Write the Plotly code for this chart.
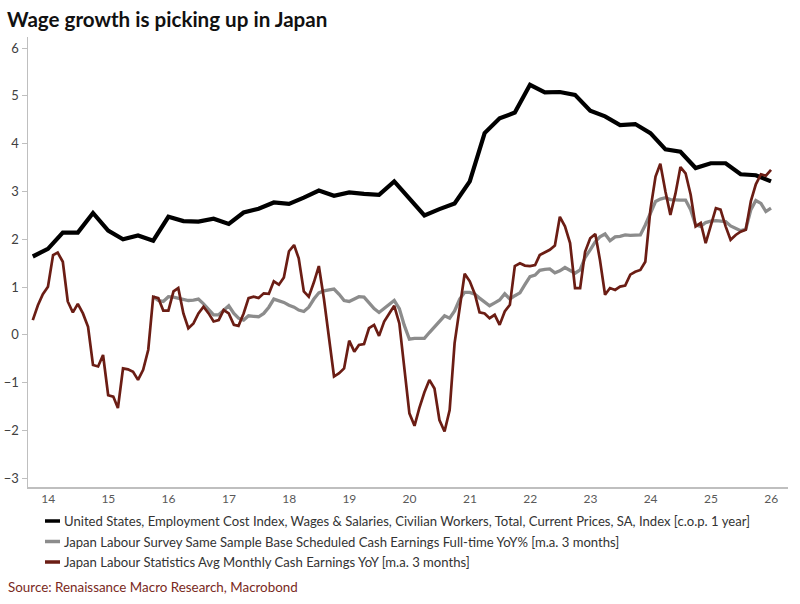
import pandas as pd
import plotly.graph_objects as go

# ---------------- data ----------------
title_text = "Wage growth is picking up in Japan"
source_text = "Source: Renaissance Macro Research, Macrobond"

series_names = [
    "United States, Employment Cost Index, Wages & Salaries, Civilian Workers, Total, Current Prices, SA, Index [c.o.p. 1 year]",
    "Japan Labour Survey Same Sample Base Scheduled Cash Earnings Full-time YoY% [m.a. 3 months]",
    "Japan Labour Statistics Avg Monthly Cash Earnings YoY [m.a. 3 months]",
]
series_colors = ["#000000", "#8c8c8c", "#6b1d14"]
series_widths = [4.2, 3.3, 2.7]

# quarterly dates (quarter end), Q3 2013 .. Q4 2025
us_dates = pd.date_range("2013-09-30", periods=50, freq="QE")
us_eci = [
    1.64, 1.80, 2.14, 2.14, 2.55, 2.18, 2.00, 2.08, 1.97, 2.47,
    2.38, 2.37, 2.43, 2.32, 2.56, 2.64, 2.77, 2.74, 2.87, 3.02,
    2.91, 2.98, 2.95, 2.93, 3.21, 2.86, 2.50, 2.63, 2.75, 3.21,
    4.22, 4.53, 4.65, 5.23, 5.07, 5.08, 5.02, 4.69, 4.57, 4.39,
    4.41, 4.22, 3.88, 3.83, 3.49, 3.59, 3.59, 3.36, 3.34, 3.21,
]

# monthly dates (month end), Sep 2013 .. Dec 2025
jp_dates = pd.date_range("2013-09-30", periods=148, freq="ME")
jp_same_sample = [None] * 24 + [
    0.80, 0.72, 0.70, 0.80, 0.79, 0.77, 0.74, 0.72, 0.73, 0.75, 0.65, 0.53,
    0.42, 0.42, 0.52, 0.61, 0.45, 0.35, 0.31, 0.40, 0.39, 0.38, 0.45, 0.58,
    0.75, 0.72, 0.68, 0.62, 0.58, 0.52, 0.49, 0.58, 0.75, 0.88, 0.92, 0.94,
    0.96, 0.85, 0.72, 0.70, 0.76, 0.80, 0.79, 0.68, 0.55, 0.47, 0.55, 0.65,
    0.72, 0.55, 0.20, -0.09, -0.07, -0.07, -0.07, 0.05, 0.17, 0.30, 0.40, 0.35,
    0.50, 0.75, 0.89, 0.89, 0.85, 0.77, 0.68, 0.61, 0.67, 0.73, 0.86, 0.75,
    0.82, 0.88, 1.05, 1.22, 1.25, 1.35, 1.37, 1.38, 1.30, 1.34, 1.41, 1.35,
    1.29, 1.36, 1.62, 1.78, 1.95, 2.05, 2.11, 1.97, 2.05, 2.06, 2.09, 2.08,
    2.09, 2.09, 2.30, 2.55, 2.79, 2.84, 2.87, 2.83, 2.82, 2.82, 2.82, 2.62,
    2.30, 2.27, 2.35, 2.38, 2.39, 2.38, 2.37, 2.28, 2.22, 2.18, 2.21, 2.62,
    2.81, 2.75, 2.58, 2.65,
]
jp_cash_earnings = [
    0.31, 0.62, 0.85, 1.01, 1.67, 1.72, 1.53, 0.70, 0.47, 0.65, 0.45, 0.17,
    -0.63, -0.66, -0.42, -1.26, -1.29, -1.53, -0.70, -0.72, -0.77, -0.94, -0.73, -0.31,
    0.80, 0.77, 0.51, 0.51, 0.91, 0.98, 0.45, 0.14, 0.24, 0.45, 0.59, 0.45,
    0.28, 0.31, 0.52, 0.45, 0.21, 0.19, 0.45, 0.77, 0.80, 0.77, 0.87, 0.86,
    1.12, 1.05, 1.20, 1.75, 1.88, 1.60, 0.91, 0.80, 1.10, 1.44, 0.75, -0.10,
    -0.87, -0.80, -0.70, -0.12, -0.35, -0.21, -0.19, 0.14, 0.21, -0.02, 0.28, 0.45,
    0.61, 0.24, -0.66, -1.64, -1.90, -1.53, -1.20, -0.94, -1.12, -1.78, -2.02, -1.57,
    -0.17, 0.60, 1.28, 1.12, 0.85, 0.47, 0.45, 0.35, 0.42, 0.21, 0.49, 0.63,
    1.44, 1.50, 1.45, 1.44, 1.46, 1.67, 1.72, 1.78, 1.87, 2.47, 2.27, 1.92,
    0.98, 0.98, 1.74, 2.02, 2.11, 1.57, 0.84, 0.98, 0.94, 1.01, 1.03, 1.26,
    1.32, 1.36, 1.53, 2.62, 3.31, 3.58, 3.00, 2.51, 2.96, 3.51, 3.38, 2.93,
    2.27, 2.34, 1.92, 2.27, 2.65, 2.62, 2.27, 1.99, 2.09, 2.16, 2.20, 2.80,
    3.15, 3.36, 3.33, 3.45,
]

y_tick_values = [-3, -2, -1, 0, 1, 2, 3, 4, 5, 6]

# ---------------- figure ----------------
FONT = "Lato"
W, H = 800, 604
ML, MR, MT, MB = 28, 12, 37, 117
plot_w = W - ML - MR
plot_h = H - MT - MB


def px_to_paper_x(px):
    return (px - ML) / plot_w


def px_to_paper_y(py):
    return (H - MB - py) / plot_h


fig = go.Figure()
xs = [us_dates, jp_dates, jp_dates]
ys = [us_eci, jp_same_sample, jp_cash_earnings]
for name, x, y, c, w in zip(series_names, xs, ys, series_colors, series_widths):
    fig.add_trace(go.Scatter(
        x=x, y=y, name=name, mode="lines",
        line=dict(color=c, width=w), showlegend=False,
        connectgaps=False, hoverinfo="skip",
    ))

# custom legend (short swatch + text)
legend_rows_px = [521, 541.5, 562]
annotations = []
shapes = []
for name, c, ypx in zip(series_names, series_colors, legend_rows_px):
    shapes.append(dict(
        type="line", xref="paper", yref="paper",
        x0=px_to_paper_x(45), x1=px_to_paper_x(60),
        y0=px_to_paper_y(ypx), y1=px_to_paper_y(ypx),
        line=dict(color=c, width=3.5),
    ))
    annotations.append(dict(
        text=name, xref="paper", yref="paper",
        x=px_to_paper_x(62), y=px_to_paper_y(ypx),
        xanchor="left", yanchor="middle", showarrow=False,
        font=dict(family=FONT, size=13.1, color="#333333"),
    ))

annotations.append(dict(
    text=source_text, xref="paper", yref="paper",
    x=px_to_paper_x(6), y=px_to_paper_y(586.5),
    xanchor="left", yanchor="middle", showarrow=False,
    font=dict(family=FONT, size=13.4, color="#7a2a22"),
))

fig.update_layout(
    width=W, height=H,
    margin=dict(l=ML, r=MR, t=MT, b=MB, pad=0, autoexpand=False),
    paper_bgcolor="white", plot_bgcolor="white",
    title=dict(
        text=f"<b>{title_text}</b>", x=7 / W, xref="container", xanchor="left",
        y=1 - 20 / H, yref="container", yanchor="middle",
        font=dict(family=FONT, size=20.6, color="#111111"),
        automargin=False,
    ),
    annotations=annotations,
    shapes=shapes,
    showlegend=False,
    hovermode=False,
)

fig.update_xaxes(
    type="date",
    range=["2013-09-01", "2026-04-13"],
    tick0="2014-01-01", dtick="M12", tickformat="%y",
    showgrid=False, zeroline=False, automargin=False,
    showline=True, linecolor="#bfbfbf", linewidth=1.5,
    ticks="", tickfont=dict(family=FONT, size=12, color="#595959"),
)
fig.update_yaxes(
    range=[-3.18, 6.23],
    tickvals=y_tick_values,
    showgrid=False, zeroline=False, automargin=False,
    showline=True, linecolor="#bfbfbf", linewidth=1.5,
    ticks="outside", ticklen=5, tickcolor="#bfbfbf", tickwidth=1,
    tickfont=dict(family=FONT, size=13, color="#404040"),
)

fig.write_html(
    "out.html",
    config={"displayModeBar": False, "staticPlot": True},
    post_script="document.body.style.margin='0';document.body.style.overflow='hidden';",
)
